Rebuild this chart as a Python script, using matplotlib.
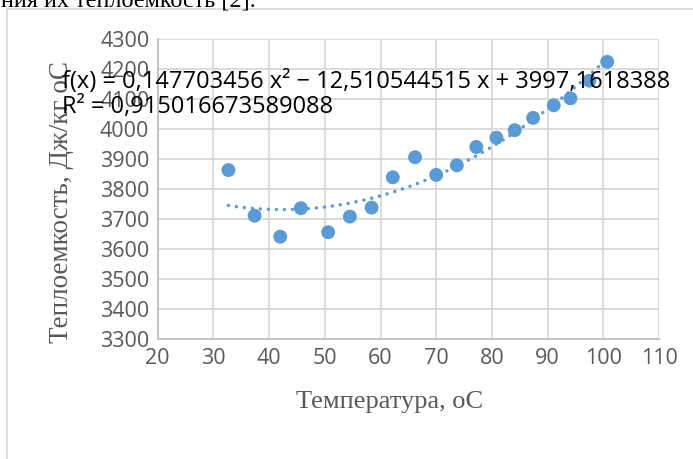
import numpy as np
import matplotlib
matplotlib.use("Agg")
import matplotlib.pyplot as plt
from matplotlib.lines import Line2D

# ── данные ────────────────────────────────────────────────────────────────────
temp = [32.7, 37.4, 42.0, 45.7, 50.6, 54.5, 58.4, 62.2, 66.2, 70.0,
        73.7, 77.2, 80.8, 84.1, 87.4, 91.1, 94.1, 97.5, 100.7]
heat = [3864, 3712, 3642, 3737, 3657, 3709, 3739, 3840, 3907, 3848,
        3880, 3941, 3972, 3997, 4038, 4080, 4103, 4162, 4225]

# коэффициенты полиномиального тренда (из подписи на графике)
coef = [0.147703456, -12.510544515, 3997.1618388]
r2 = 0.915016673589088

x_ticks = list(range(20, 111, 10))
y_ticks = list(range(3300, 4301, 100))

BLUE = "#5B9BD5"
GRAY_TXT = "#595959"
GRID = "#D9D9D9"

W, H = 693, 459
fig = plt.figure(figsize=(W / 100, H / 100), dpi=100)

# рамка области диаграммы (обрезана справа и снизу)
fig.add_artist(Line2D([7 / W, 7 / W], [0, 1 - 9 / H], transform=fig.transFigure,
                      color=GRID, lw=1.2))
fig.add_artist(Line2D([7 / W, 1], [1 - 9 / H, 1 - 9 / H], transform=fig.transFigure,
                      color=GRID, lw=1.2))

# обрезанная строка текста документа над диаграммой
fig.text(256 / W, 1 - 7 / H, "ния их теплоемкость [2].", ha="right", va="baseline",
         family="Liberation Serif", fontsize=17.5, color="black")

ax = fig.add_axes([157.7 / W, 1 - 339.3 / H, (659 - 157.7) / W, (339.3 - 39.3) / H])

xs = np.linspace(min(temp), max(temp), 200)
ax.plot(xs, np.polyval(coef, xs), color=BLUE, lw=2.5,
        dashes=(0.01, 2.3), dash_capstyle="round", zorder=3)
ax.scatter(temp, heat, s=100, color=BLUE, edgecolors="none", zorder=4)

ax.set_xlim(20, 110)
ax.set_ylim(3300, 4300)
ax.set_xticks(x_ticks)
ax.set_yticks(y_ticks)
ax.grid(True, color=GRID, lw=1.3)
ax.set_axisbelow(True)
for side in ["top", "right"]:
    ax.spines[side].set_visible(False)
for side in ["left", "bottom"]:
    ax.spines[side].set_color("#BFBFBF")
    ax.spines[side].set_linewidth(1.3)
ax.tick_params(length=0, pad=6, labelsize=15.5, labelcolor=GRAY_TXT)
for lab in ax.get_xticklabels() + ax.get_yticklabels():
    lab.set_family("Open Sans")

# подписи осей
fig.text(390 / W, 1 - 402 / H, "Температура, оС", ha="center", va="center",
         family="Liberation Serif", fontsize=19, color=GRAY_TXT)
fig.text(62 / W, 1 - 202 / H, "Теплоемкость, Дж/кг оС", ha="center", va="center",
         rotation=90, family="Liberation Serif", fontsize=19.5, color=GRAY_TXT)

# уравнение тренда
eq = (f"f(x) = {coef[0]:.9f} x² − {-coef[1]:.9f} x + {coef[2]:.7f}").replace(".", ",")
fig.text(62 / W, 1 - 88 / H, eq, ha="left", va="baseline",
         family="Open Sans", fontsize=17, color="black")
fig.text(62 / W, 1 - 113 / H, f"R² = {r2:.15f}".replace(".", ","), ha="left",
         va="baseline", family="Open Sans", fontsize=17, color="black")

fig.savefig("out.png", dpi=100)
